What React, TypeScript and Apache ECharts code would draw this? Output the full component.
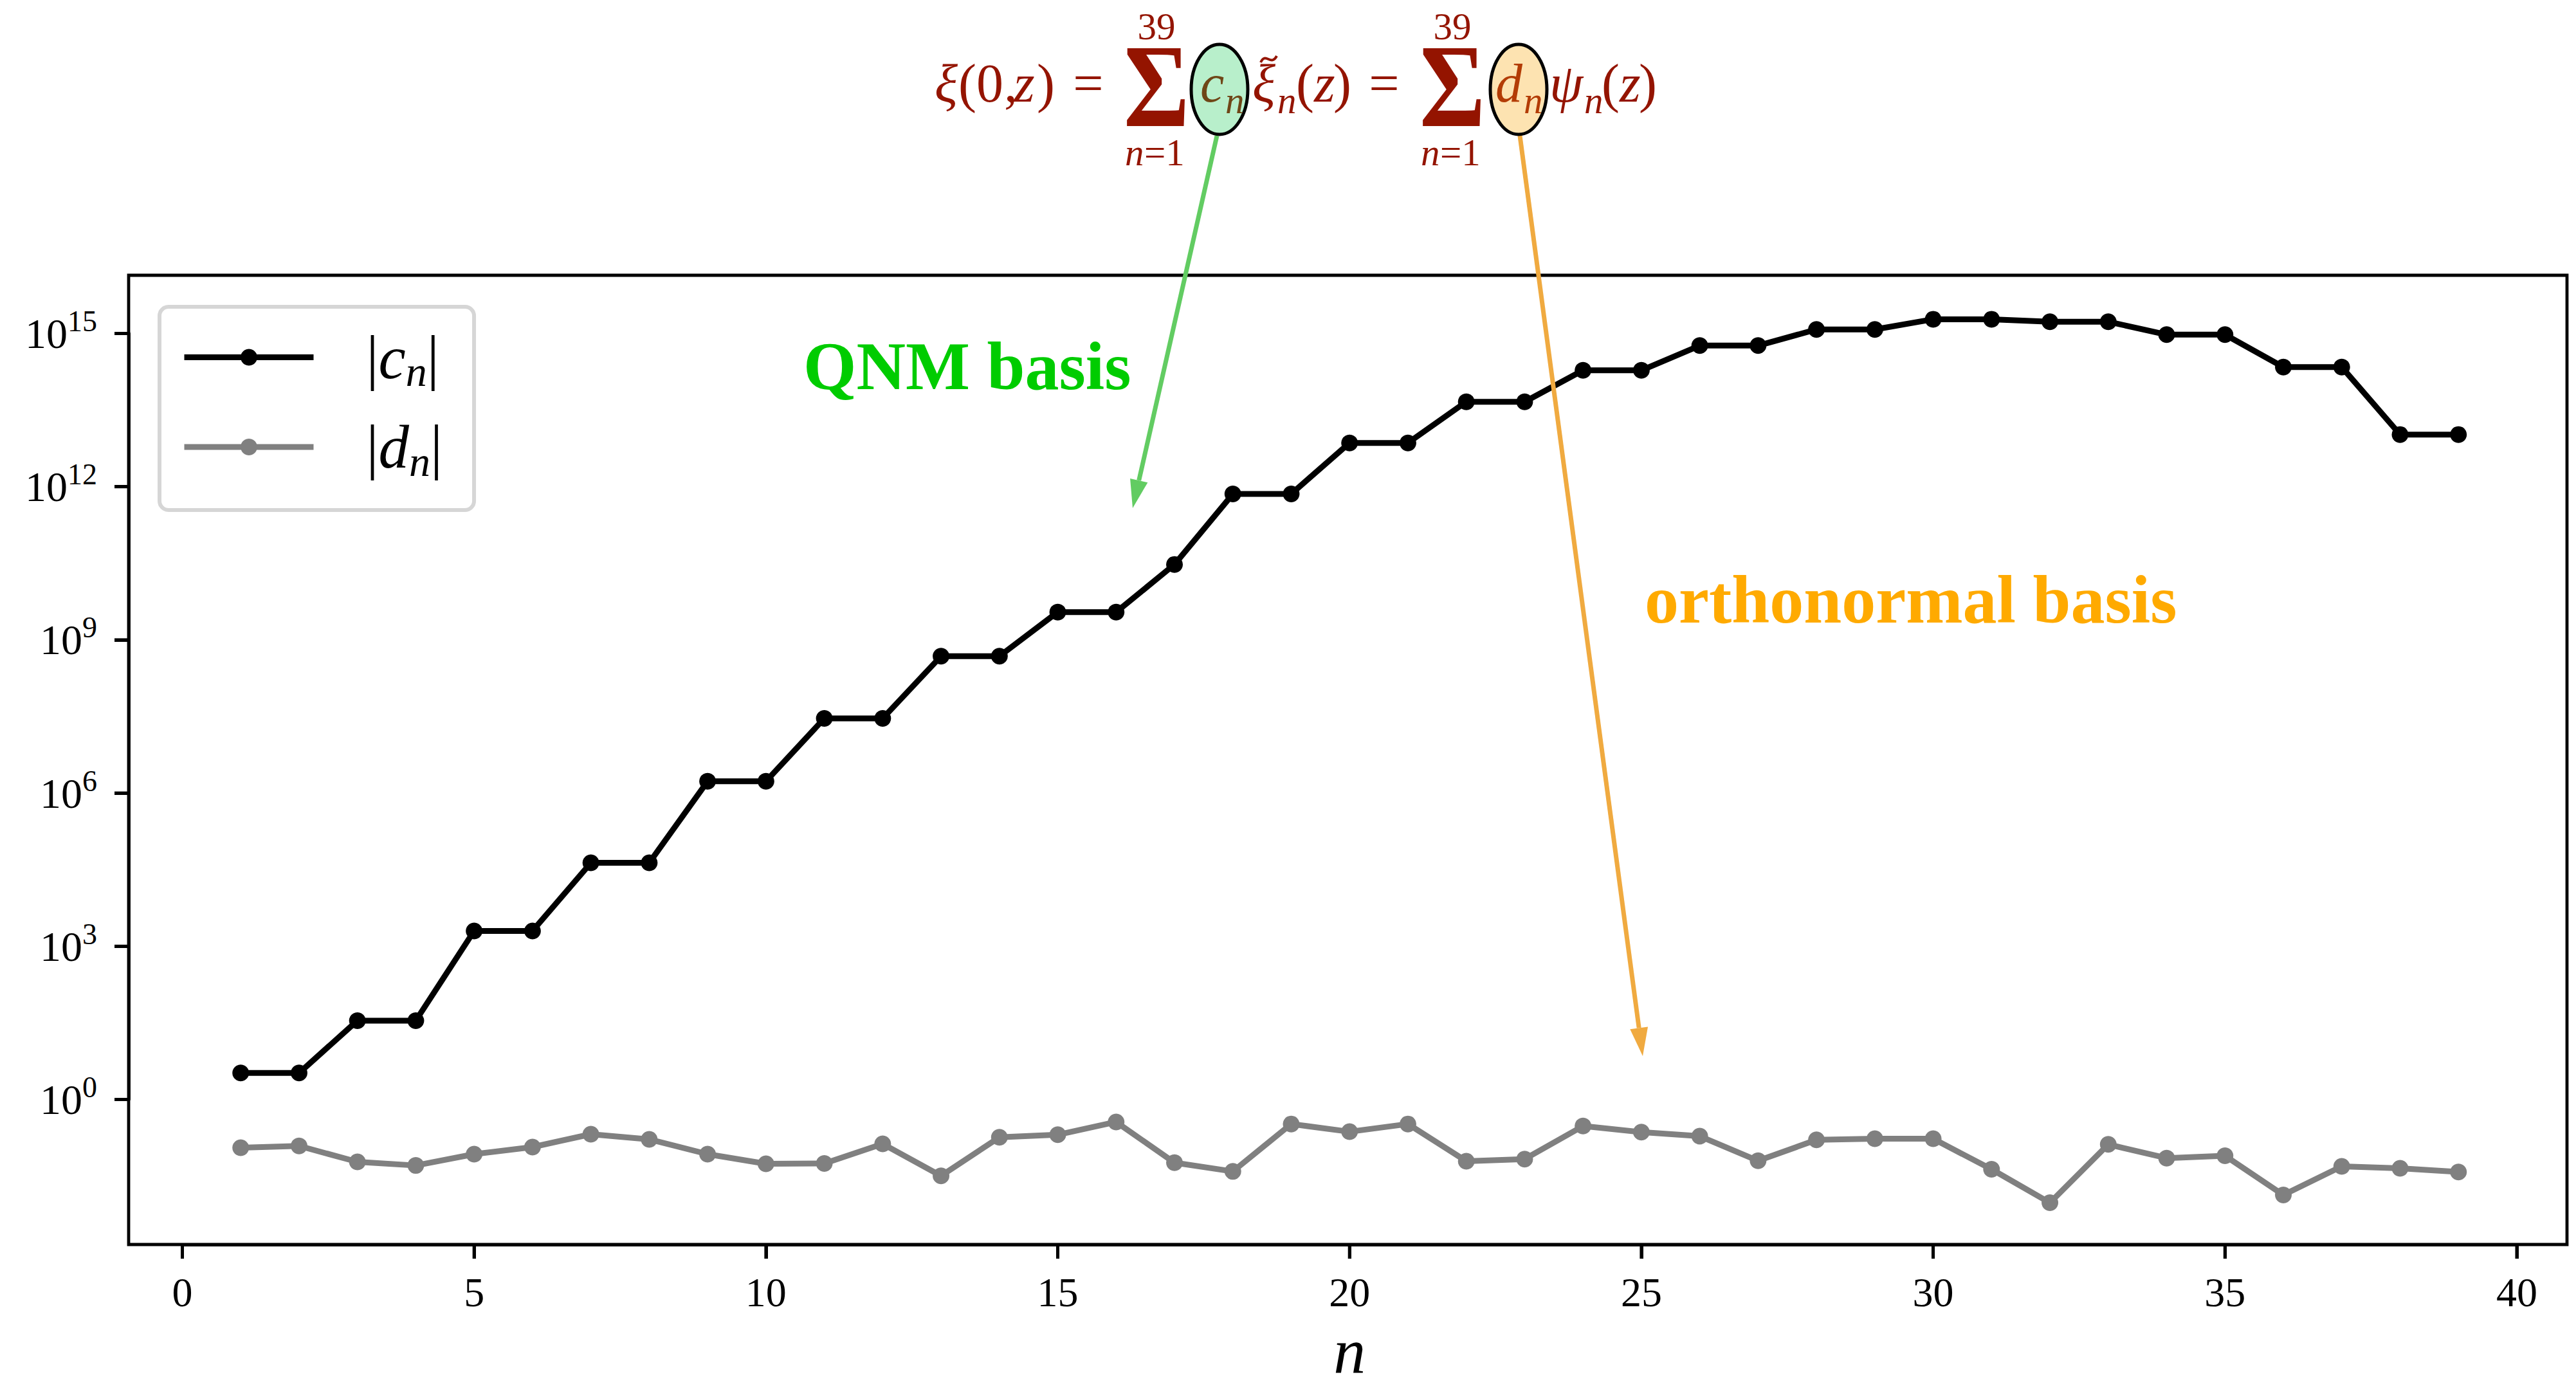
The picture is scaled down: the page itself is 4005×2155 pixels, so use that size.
import React, { useEffect, useRef } from 'react';
import * as echarts from 'echarts';

// ---------- data ----------
const nValues = [1, 2, 3, 4, 5, 6, 7, 8, 9, 10, 11, 12, 13, 14, 15, 16, 17, 18, 19, 20,
  21, 22, 23, 24, 25, 26, 27, 28, 29, 30, 31, 32, 33, 34, 35, 36, 37, 38, 39];

const cnValues = [
  3.3, 3.3, 35, 35, 2.0e3, 2.0e3, 4.3e4, 4.3e4, 1.7e6, 1.7e6,
  2.9e7, 2.9e7, 4.8e8, 4.8e8, 3.5e9, 3.5e9, 3.0e10, 7.2e11, 7.2e11, 7.2e12,
  7.2e12, 4.6e13, 4.6e13, 1.9e14, 1.9e14, 5.8e14, 5.8e14, 1.2e15, 1.2e15, 1.9e15,
  1.9e15, 1.7e15, 1.7e15, 9.5e14, 9.5e14, 2.2e14, 2.2e14, 1.05e13, 1.05e13,
];

const dnValues = [
  0.114, 0.123, 0.060, 0.051, 0.085, 0.117, 0.209, 0.166, 0.085, 0.055,
  0.056, 0.135, 0.032, 0.182, 0.204, 0.363, 0.058, 0.039, 0.331, 0.234,
  0.331, 0.062, 0.068, 0.302, 0.229, 0.191, 0.063, 0.162, 0.170, 0.170,
  0.043, 0.0095, 0.132, 0.071, 0.079, 0.0135, 0.049, 0.045, 0.038,
];

// ticks: x at 0..40 every 5, y at 10^0 .. 10^15 every 3 decades
const xTickValues = [0, 5, 10, 15, 20, 25, 30, 35, 40];
const yTickExponents = [0, 3, 6, 9, 12, 15];
const seriesNames = ['cn', 'dn'];

// ---------- layout / styling ----------
const FONT = '"Liberation Serif", "Times New Roman", serif';
const FORMULA = '#941400';
const C_COLOR = '#6f4617';
const D_COLOR = '#b33c05';
const GREEN = '#62cc62';
const ORANGE = '#f0aa40';

const W = 4005;
const H = 2155;
const PLOT_LEFT = 200;
const PLOT_RIGHT = 3991;
const PLOT_TOP = 428;
const PLOT_BOTTOM = 1935;
const TICK_LEN = 22;
const TICK_W = 5;

const X_MIN = -0.92;
const X_MAX = 40.86;
const LOG_MIN = -2.84;
const LOG_MAX = 16.14;

// pixel position helpers for the label-axis grids (same linear mapping as the data axes)
const xPx = (v: number) => PLOT_LEFT + ((v - X_MIN) / (X_MAX - X_MIN)) * (PLOT_RIGHT - PLOT_LEFT);
const yPx = (e: number) => PLOT_BOTTOM - ((e - LOG_MIN) / (LOG_MAX - LOG_MIN)) * (PLOT_BOTTOM - PLOT_TOP);

type TxtOpts = { italic?: boolean; bold?: boolean; color?: string; align?: string; scaleX?: number };
const txt = (text: string, x: number, y: number, size: number, o: TxtOpts = {}) => ({
  type: 'text',
  x,
  y,
  z: 100,
  scaleX: o.scaleX ?? 1,
  style: {
    text,
    fontSize: size,
    fontFamily: FONT,
    fontStyle: o.italic ? 'italic' : 'normal',
    fontWeight: o.bold ? 'bold' : 'normal',
    fill: o.color ?? FORMULA,
    textAlign: o.align ?? 'left',
    textVerticalAlign: 'middle',
    verticalAlign: 'middle',
  },
});

const arrow = (x1: number, y1: number, x2: number, y2: number, color: string) => {
  const L = 44;
  const HW = 28;
  const len = Math.hypot(x2 - x1, y2 - y1);
  const ux = (x2 - x1) / len;
  const uy = (y2 - y1) / len;
  const bx = x2 - ux * L;
  const by = y2 - uy * L;
  const px = -uy;
  const py = ux;
  return [
    { type: 'line', z: 98, shape: { x1, y1, x2: bx, y2: by }, style: { stroke: color, lineWidth: 7 } },
    {
      type: 'polygon', z: 98,
      shape: { points: [[x2, y2], [bx + (px * HW) / 2, by + (py * HW) / 2], [bx - (px * HW) / 2, by - (py * HW) / 2]] },
      style: { fill: color },
    },
  ];
};

const MAIN = 84;
const SMALL = 59;
const YM = 129; // vertical centre of main formula line
const YSUB = 156;

const graphics: any[] = [
  // xi(0,z) =
  txt('ξ', 1453, YM, MAIN, { italic: true }),
  txt('(', 1490, YM, MAIN),
  txt('0', 1518, YM, MAIN),
  txt(',', 1561, YM, MAIN),
  txt('z', 1576, YM, MAIN, { italic: true }),
  txt(')', 1612, YM, MAIN),
  txt('=', 1692, YM, MAIN, { align: 'center' }),
  // first sum
  txt('Σ', 1798, 134, 184, { align: 'center', scaleX: 0.85, bold: true }),
  txt('39', 1798, 41, SMALL, { align: 'center' }),
  txt('n', 1749, 237, SMALL, { italic: true }),
  txt('=1', 1779, 237, SMALL),
  { type: 'ellipse', z: 99, shape: { cx: 1896, cy: 139, rx: 44, ry: 70 }, style: { fill: '#b8efcb', stroke: '#000', lineWidth: 5 } },
  txt('c', 1866, YM, MAIN, { italic: true, color: C_COLOR }),
  txt('n', 1905, YSUB, SMALL, { italic: true, color: C_COLOR }),
  // tilde xi_n(z)
  txt('ξ', 1947, YM, MAIN, { italic: true }),
  {
    type: 'bezierCurve', z: 100,
    shape: { x1: 1960, y1: 97, cpx1: 1968, cpy1: 80, cpx2: 1976, cpy2: 104, x2: 1985, y2: 87 },
    style: { stroke: FORMULA, lineWidth: 4, fill: 'none' },
  },
  txt('n', 1986, YSUB, SMALL, { italic: true }),
  txt('(', 2015, YM, MAIN),
  txt('z', 2043, YM, MAIN, { italic: true }),
  txt(')', 2073, YM, MAIN),
  txt('=', 2152, YM, MAIN, { align: 'center' }),
  // second sum
  txt('Σ', 2258, 134, 184, { align: 'center', scaleX: 0.85, bold: true }),
  txt('39', 2258, 41, SMALL, { align: 'center' }),
  txt('n', 2209, 237, SMALL, { italic: true }),
  txt('=1', 2239, 237, SMALL),
  { type: 'ellipse', z: 99, shape: { cx: 2361, cy: 139, rx: 44, ry: 70 }, style: { fill: '#fde3b1', stroke: '#000', lineWidth: 5 } },
  txt('d', 2325, YM, MAIN, { italic: true, color: D_COLOR }),
  txt('n', 2369, YSUB, SMALL, { italic: true, color: D_COLOR }),
  txt('ψ', 2409, YM, MAIN, { italic: true }),
  txt('n', 2463, YSUB, SMALL, { italic: true }),
  txt('(', 2490, YM, MAIN),
  txt('z', 2518, YM, MAIN, { italic: true }),
  txt(')', 2548, YM, MAIN),
  // annotations
  txt('QNM basis', 1249, 569, 106, { bold: true, color: '#00cc00' }),
  txt('orthonormal basis', 2557, 932, 106, { bold: true, color: '#ffaa00' }),
  ...arrow(1892, 211, 1761, 790, GREEN),
  ...arrow(2363, 211, 2554, 1642, ORANGE),
];

const legendLabel: Record<string, string> = {
  cn: '{sp| }{bar||}{v|c}{sub|n}{bar||}',
  dn: '{sp| }{bar||}{v|d}{sub|n}{bar||}',
};

const tickLine = { color: '#000', width: TICK_W };
const frameLine = { show: true, onZero: false, lineStyle: { color: '#000', width: 4.8 } };

const option: any = {
  animation: false,
  backgroundColor: '#fff',
  grid: [
    {
      // data grid with the frame
      left: PLOT_LEFT,
      right: W - PLOT_RIGHT,
      top: PLOT_TOP,
      bottom: H - PLOT_BOTTOM,
      show: true,
      borderColor: '#000',
      borderWidth: 4.8,
      backgroundColor: 'transparent',
      containLabel: false,
      outerBoundsMode: 'none',
    },
    {
      // grid for the y label axis: spans exactly 10^0 .. 10^15
      left: PLOT_LEFT,
      right: W - PLOT_RIGHT,
      top: yPx(yTickExponents[yTickExponents.length - 1]),
      bottom: H - yPx(yTickExponents[0]),
      show: false,
      containLabel: false,
      outerBoundsMode: 'none',
    },
    {
      // grid for the x label axis: spans exactly 0 .. 40
      left: xPx(xTickValues[0]),
      right: W - xPx(xTickValues[xTickValues.length - 1]),
      top: PLOT_TOP,
      bottom: H - PLOT_BOTTOM,
      show: false,
      containLabel: false,
      outerBoundsMode: 'none',
    },
  ],
  xAxis: [
    { type: 'value', gridIndex: 0, min: X_MIN, max: X_MAX, show: false, axisLine: { onZero: false } },
    { type: 'value', gridIndex: 1, min: 0, max: 1, show: false, axisLine: { onZero: false } },
    {
      type: 'value',
      gridIndex: 2,
      position: 'bottom',
      min: xTickValues[0],
      max: xTickValues[xTickValues.length - 1],
      interval: xTickValues[1] - xTickValues[0],
      axisLine: frameLine,
      splitLine: { show: false },
      axisTick: { show: true, inside: false, length: TICK_LEN, lineStyle: tickLine },
      axisLabel: {
        show: true,
        fontSize: 64,
        fontFamily: FONT,
        color: '#000',
        margin: 42,
        showMinLabel: true,
        showMaxLabel: true,
      },
      name: 'n',
      nameLocation: 'middle',
      nameGap: 125,
      nameTextStyle: { fontSize: 100, lineHeight: 80, fontFamily: FONT, fontStyle: 'italic', color: '#000' },
    },
  ],
  yAxis: [
    {
      // logarithmic axis that the data are drawn on
      type: 'log',
      logBase: 10,
      gridIndex: 0,
      min: Math.pow(10, LOG_MIN),
      max: Math.pow(10, LOG_MAX),
      show: false,
      axisLine: { onZero: false },
      splitLine: { show: false },
    },
    {
      // exponent axis carrying the 10^k labels
      type: 'value',
      gridIndex: 1,
      position: 'left',
      min: yTickExponents[0],
      max: yTickExponents[yTickExponents.length - 1],
      interval: yTickExponents[1] - yTickExponents[0],
      axisLine: frameLine,
      splitLine: { show: false },
      axisTick: { show: true, inside: false, length: TICK_LEN, lineStyle: tickLine },
      axisLabel: {
        show: true,
        margin: 49,
        showMinLabel: true,
        showMaxLabel: true,
        formatter: (v: number) => `{b|10}{s|${Math.round(v)}}`,
        rich: {
          b: { fontSize: 66, fontFamily: FONT, color: '#000', lineHeight: 84, verticalAlign: 'middle' },
          s: { fontSize: 46, fontFamily: FONT, color: '#000', lineHeight: 48, verticalAlign: 'top' },
        },
      },
    },
    { type: 'value', gridIndex: 2, min: 0, max: 1, show: false, axisLine: { onZero: false } },
  ],
  legend: {
    show: true,
    data: seriesNames,
    orient: 'vertical',
    left: 248,
    top: 477,
    padding: [31, 49, 43, 34],
    itemGap: 37,
    itemWidth: 201,
    itemHeight: 32.5,
    backgroundColor: '#fff',
    borderColor: '#d6d6d6',
    borderWidth: 6,
    borderRadius: 14,
    selectedMode: false,
    lineStyle: { width: 9 },
    formatter: (name: string) => legendLabel[name] ?? name,
    textStyle: {
      color: '#000',
      rich: {
        sp: { width: 77, fontSize: 95, lineHeight: 110, verticalAlign: 'middle' },
        bar: { fontSize: 95, fontFamily: FONT, color: '#000', lineHeight: 110, verticalAlign: 'middle' },
        v: { fontSize: 95, fontFamily: FONT, fontStyle: 'italic', color: '#000', lineHeight: 110, verticalAlign: 'middle' },
        sub: { fontSize: 66, fontFamily: FONT, fontStyle: 'italic', color: '#000', lineHeight: 62, verticalAlign: 'bottom' },
      },
    },
  },
  series: [
    {
      name: seriesNames[0],
      type: 'line',
      xAxisIndex: 0,
      yAxisIndex: 0,
      data: nValues.map((n, i) => [n, cnValues[i]]),
      symbol: 'circle',
      symbolSize: 26,
      showSymbol: true,
      lineStyle: { color: '#000', width: 9 },
      itemStyle: { color: '#000' },
      z: 3,
    },
    {
      name: seriesNames[1],
      type: 'line',
      xAxisIndex: 0,
      yAxisIndex: 0,
      data: nValues.map((n, i) => [n, dnValues[i]]),
      symbol: 'circle',
      symbolSize: 26,
      showSymbol: true,
      lineStyle: { color: '#808080', width: 9 },
      itemStyle: { color: '#808080' },
      z: 4,
    },
  ],
  graphic: graphics,
};

export default function App() {
  const ref = useRef<HTMLDivElement>(null);
  useEffect(() => {
    if (!ref.current) return;
    const chart = echarts.init(ref.current, null, { renderer: 'svg' });
    chart.setOption(option);
    // tick marks placed through the data axes' own scales
    const ticks: any[] = [];
    xTickValues.forEach((v) => {
      const px = chart.convertToPixel({ xAxisIndex: 0 }, v) as number;
      if (typeof px === 'number' && isFinite(px)) {
        ticks.push({
          type: 'line', z: 50,
          shape: { x1: px, y1: PLOT_BOTTOM, x2: px, y2: PLOT_BOTTOM + TICK_LEN },
          style: { stroke: '#000', lineWidth: TICK_W },
        });
      }
    });
    yTickExponents.forEach((e) => {
      const py = chart.convertToPixel({ yAxisIndex: 0 }, Math.pow(10, e)) as number;
      if (typeof py === 'number' && isFinite(py)) {
        ticks.push({
          type: 'line', z: 50,
          shape: { x1: PLOT_LEFT - TICK_LEN, y1: py, x2: PLOT_LEFT, y2: py },
          style: { stroke: '#000', lineWidth: TICK_W },
        });
      }
    });
    chart.setOption({ graphic: [...graphics, ...ticks] });
    return () => {
      chart.dispose();
    };
  }, []);
  return (
    <div
      ref={ref}
      style={{ position: 'fixed', left: 0, top: 0, width: W, height: H, background: '#fff' }}
    />
  );
}
